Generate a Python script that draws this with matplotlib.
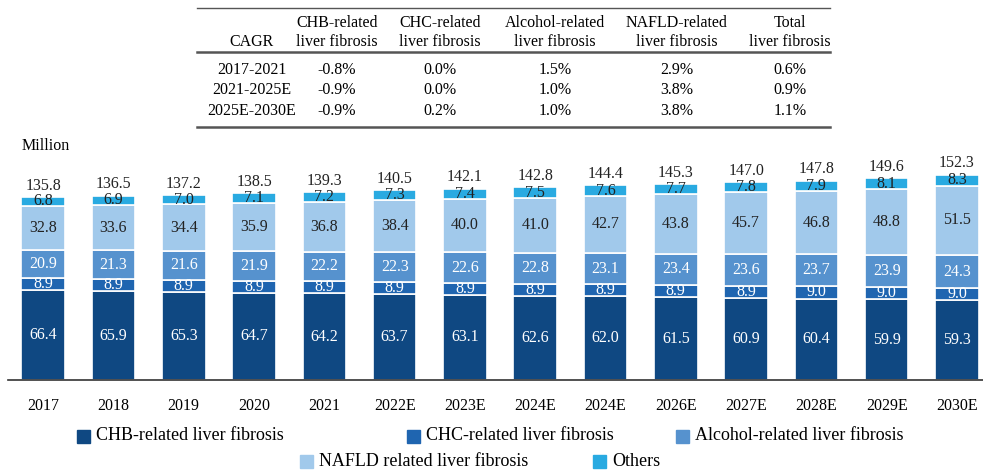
import matplotlib
matplotlib.use("Agg")
import matplotlib.pyplot as plt
from matplotlib.patches import Rectangle
import numpy as np

plt.rcParams['font.family'] = ['Liberation Serif', 'DejaVu Serif']
plt.rcParams['font.size'] = 11.5

years = ["2017", "2018", "2019", "2020", "2021", "2022E", "2023E", "2024E",
         "2024E", "2026E", "2027E", "2028E", "2029E", "2030E"]
chb = [66.4, 65.9, 65.3, 64.7, 64.2, 63.7, 63.1, 62.6, 62.0, 61.5, 60.9, 60.4, 59.9, 59.3]
chc = [8.9, 8.9, 8.9, 8.9, 8.9, 8.9, 8.9, 8.9, 8.9, 8.9, 8.9, 9.0, 9.0, 9.0]
alcohol = [20.9, 21.3, 21.6, 21.9, 22.2, 22.3, 22.6, 22.8, 23.1, 23.4, 23.6, 23.7, 23.9, 24.3]
nafld = [32.8, 33.6, 34.4, 35.9, 36.8, 38.4, 40.0, 41.0, 42.7, 43.8, 45.7, 46.8, 48.8, 51.5]
others = [6.8, 6.9, 7.0, 7.1, 7.2, 7.3, 7.4, 7.5, 7.6, 7.7, 7.8, 7.9, 8.1, 8.3]
totals = [135.8, 136.5, 137.2, 138.5, 139.3, 140.5, 142.1, 142.8, 144.4, 145.3, 147.0, 147.8, 149.6, 152.3]

series_names = ["CHB-related liver fibrosis", "CHC-related liver fibrosis",
                "Alcohol-related liver fibrosis", "NAFLD related liver fibrosis", "Others"]
colors = ["#0F4882", "#1F65B0", "#5692CE", "#A1C9EB", "#29AAE1"]
text_colors = ["white", "white", "white", "#222222", "#222222"]

# CAGR table
cagr_header = [("", "CAGR"), ("CHB-related", "liver fibrosis"), ("CHC-related", "liver fibrosis"),
               ("Alcohol-related", "liver fibrosis"), ("NAFLD-related", "liver fibrosis"),
               ("Total", "liver fibrosis")]
cagr_periods = ["2017-2021", "2021-2025E", "2025E-2030E"]
cagr_values = [["-0.8%", "0.0%", "1.5%", "2.9%", "0.6%"],
               ["-0.9%", "0.0%", "1.0%", "3.8%", "0.9%"],
               ["-0.9%", "0.2%", "1.0%", "3.8%", "1.1%"]]

W, H = 983, 472
fig = plt.figure(figsize=(W / 100, H / 100), dpi=100)

def fx(px):
    return px / W

def fy(py):
    return 1 - py / H

ax = fig.add_axes([fx(8), fy(380), fx(983 - 8), (380 - 140) / H])

x = np.arange(len(years))
data = [chb, chc, alcohol, nafld, others]
bottom = np.zeros(len(years))
for vals, col, tcol, name in zip(data, colors, text_colors, series_names):
    vals = np.array(vals)
    ax.bar(x, vals, 0.62, bottom=bottom, color=col, edgecolor='white',
           linewidth=1.2, label=name)
    for xi, b, v in zip(x, bottom, vals):
        ax.text(xi, b + v / 2, f"{v:.1f}", ha='center', va='center',
                color=tcol, fontsize=11.5)
    bottom = bottom + vals

for xi, b, t in zip(x, bottom, totals):
    ax.text(xi, b + 2.5, f"{t:.1f}", ha='center', va='bottom', color='#222222', fontsize=11.5)

ax.set_xlim(-0.5, 13.37)
ax.set_ylim(0, 178)
ax.set_xticks(x)
ax.set_xticklabels(years, fontsize=11.5)
ax.tick_params(axis='x', length=0, pad=13)
ax.set_yticks([])
for s in ['top', 'right', 'left']:
    ax.spines[s].set_visible(False)
ax.spines['bottom'].set_color('#333333')
ax.spines['bottom'].set_linewidth(1.2)

fig.text(fx(22), fy(146), "Million", ha='left', va='center', fontsize=11.5)

# table
col_centers = [252, 337, 440, 555, 677, 790]
for cx, (l1, l2) in zip(col_centers, cagr_header):
    fig.text(fx(cx), fy(23), l1, ha='center', va='center', fontsize=11.5)
    fig.text(fx(cx), fy(42), l2, ha='center', va='center', fontsize=11.5)
row_y = [70, 90, 111]
for ry, per, vals in zip(row_y, cagr_periods, cagr_values):
    fig.text(fx(col_centers[0]), fy(ry), per, ha='center', va='center', fontsize=11.5)
    for cx, v in zip(col_centers[1:], vals):
        fig.text(fx(cx), fy(ry), v, ha='center', va='center', fontsize=11.5)
for ly, lw in [(8, 1.0), (52, 1.8), (127, 1.8)]:
    fig.add_artist(plt.Line2D([fx(197), fx(830)], [fy(ly), fy(ly)], color='#555555', linewidth=lw))

# legend
legend_pos = [(77, 436), (407, 436), (676, 436), (300, 461), (593, 461)]
for (lx, ly), col, name in zip(legend_pos, colors, series_names):
    fig.add_artist(Rectangle((fx(lx), fy(ly + 6.5)), fx(13), 13 / H, color=col,
                             transform=fig.transFigure))
    fig.text(fx(lx + 19), fy(ly), name, ha='left', va='center', fontsize=13)

fig.savefig("out.png", dpi=100)
